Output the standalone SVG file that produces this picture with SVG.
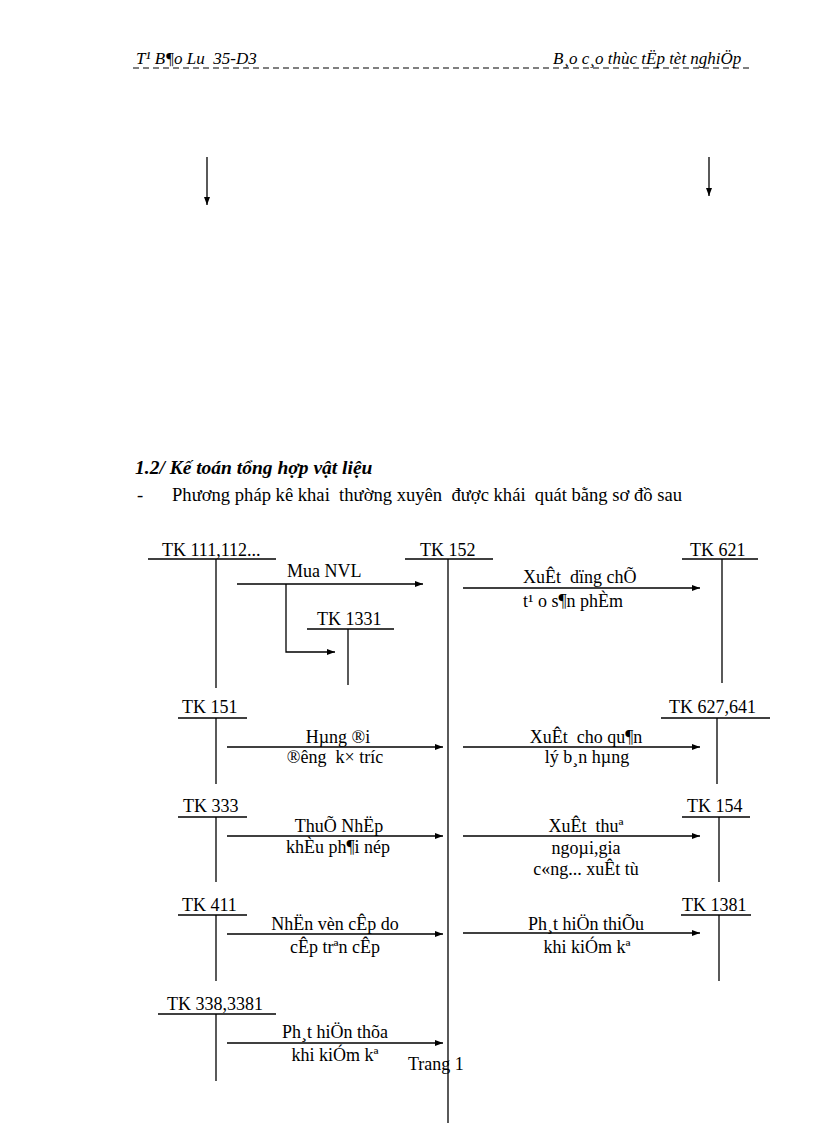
<svg xmlns="http://www.w3.org/2000/svg" width="816" height="1123" viewBox="0 0 816 1123" xml:space="preserve">
<style>
  text { font-family: "Liberation Serif", "Times New Roman", serif; fill: #000; white-space: pre; }
  .hdr { font-size: 17px; font-style: italic; }
  .ttl { font-size: 19.5px; font-weight: bold; font-style: italic; }
  .body { font-size: 18.6px; }
  .tk { font-size: 18px; }
  .lbl { font-size: 18px; }
  .c { text-anchor: middle; }
  .ln { stroke: #000; stroke-width: 1.3; fill: none; }
  .ar { stroke: #000; stroke-width: 1.3; fill: none; marker-end: url(#ah); }
</style>
<defs>
  <marker id="ah" viewBox="0 0 8 6" refX="8" refY="3" markerWidth="8" markerHeight="6" markerUnits="userSpaceOnUse" orient="auto">
    <path d="M0,0 L8,3 L0,6 z" fill="#000"/>
  </marker>
</defs>
<rect width="816" height="1123" fill="#fff"/>

<g id="header">
  <text class="hdr" x="136" y="64">T¹ B¶o Lu  35-D3</text>
  <text class="hdr" x="553" y="64">B¸o c¸o thùc tËp tèt nghiÖp</text>
  <line x1="133" y1="68" x2="750" y2="68" stroke="#000" stroke-width="1" stroke-dasharray="6,4"/>
</g>

<g id="top-arrows">
  <line class="ar" x1="207" y1="157" x2="207" y2="205"/>
  <line class="ar" x1="709" y1="157" x2="709" y2="196"/>
</g>

<g id="heading">
  <text class="ttl" x="135" y="474">1.2/ Kế toán tổng hợp vật liệu</text>
  <text class="body" x="137" y="501">-</text>
  <text class="body" x="172" y="501">Phương pháp kê khai  thường xuyên  được khái  quát bằng sơ đồ sau</text>
</g>

<g id="tk111">
  <text class="tk" x="162" y="556">TK 111,112...</text>
  <line class="ln" x1="148" y1="559" x2="276" y2="559"/>
  <line class="ln" x1="216" y1="559" x2="216" y2="688"/>
</g>
<g id="tk152">
  <text class="tk" x="420" y="556">TK 152</text>
  <line class="ln" x1="405" y1="559" x2="493" y2="559"/>
  <line class="ln" x1="448" y1="559" x2="448" y2="1123"/>
</g>
<g id="tk621">
  <text class="tk" x="690" y="556">TK 621</text>
  <line class="ln" x1="682" y1="559" x2="758" y2="559"/>
  <line class="ln" x1="722" y1="559" x2="722" y2="683"/>
</g>
<g id="tk1331">
  <text class="tk" x="317" y="625">TK 1331</text>
  <line class="ln" x1="307" y1="629" x2="394" y2="629"/>
  <line class="ln" x1="348" y1="629" x2="348" y2="685"/>
</g>
<g id="tk151">
  <text class="tk" x="182" y="713">TK 151</text>
  <line class="ln" x1="178" y1="718" x2="247" y2="718"/>
  <line class="ln" x1="216" y1="718" x2="216" y2="784"/>
</g>
<g id="tk627">
  <text class="tk" x="669" y="713">TK 627,641</text>
  <line class="ln" x1="661" y1="718" x2="770" y2="718"/>
  <line class="ln" x1="717" y1="718" x2="717" y2="784"/>
</g>
<g id="tk333">
  <text class="tk" x="183" y="812">TK 333</text>
  <line class="ln" x1="178" y1="817" x2="247" y2="817"/>
  <line class="ln" x1="216" y1="817" x2="216" y2="882"/>
</g>
<g id="tk154">
  <text class="tk" x="687" y="812">TK 154</text>
  <line class="ln" x1="682" y1="817" x2="750" y2="817"/>
  <line class="ln" x1="719" y1="817" x2="719" y2="882"/>
</g>
<g id="tk411">
  <text class="tk" x="182" y="911">TK 411</text>
  <line class="ln" x1="178" y1="915" x2="247" y2="915"/>
  <line class="ln" x1="216" y1="915" x2="216" y2="981"/>
</g>
<g id="tk1381">
  <text class="tk" x="682" y="911">TK 1381</text>
  <line class="ln" x1="681" y1="915" x2="751" y2="915"/>
  <line class="ln" x1="719" y1="915" x2="719" y2="981"/>
</g>
<g id="tk338">
  <text class="tk" x="167" y="1010">TK 338,3381</text>
  <line class="ln" x1="158" y1="1014" x2="276" y2="1014"/>
  <line class="ln" x1="216" y1="1014" x2="216" y2="1081"/>
</g>

<g id="connectors">
  <line class="ar" x1="237" y1="584" x2="423" y2="584"/>
  <polyline class="ar" points="286,584 286,652 335,652"/>
  <line class="ar" x1="463" y1="588" x2="700" y2="588"/>
  <line class="ar" x1="227" y1="747" x2="443" y2="747"/>
  <line class="ar" x1="463" y1="747" x2="700" y2="747"/>
  <line class="ar" x1="227" y1="836" x2="443" y2="836"/>
  <line class="ar" x1="463" y1="836" x2="700" y2="836"/>
  <line class="ar" x1="227" y1="934" x2="443" y2="934"/>
  <line class="ar" x1="463" y1="933" x2="700" y2="933"/>
  <line class="ar" x1="227" y1="1043" x2="443" y2="1043"/>
</g>

<g id="labels">
  <text class="lbl" x="287" y="577">Mua NVL</text>
  <text class="lbl" x="523" y="583">XuÊt  dïng chÕ</text>
  <text class="lbl" x="523" y="607">t¹ o s¶n phÈm</text>
  <text class="lbl c" x="338" y="743">Hµng ®i</text>
  <text class="lbl c" x="335" y="763">®êng  k× tríc</text>
  <text class="lbl c" x="586" y="743">XuÊt  cho qu¶n</text>
  <text class="lbl c" x="587" y="763">lý b¸n hµng</text>
  <text class="lbl c" x="339" y="832">ThuÕ NhËp</text>
  <text class="lbl c" x="338" y="853">khÈu ph¶i nép</text>
  <text class="lbl c" x="586" y="832">XuÊt  thuª</text>
  <text class="lbl c" x="586" y="854">ngoµi,gia</text>
  <text class="lbl c" x="586" y="875">c«ng... xuÊt tù</text>
  <text class="lbl c" x="335" y="930">NhËn vèn cÊp do</text>
  <text class="lbl c" x="335" y="953">cÊp trªn cÊp</text>
  <text class="lbl c" x="586" y="930">Ph¸t hiÖn thiÕu</text>
  <text class="lbl c" x="587" y="953">khi kiÓm kª</text>
  <text class="lbl c" x="335" y="1038">Ph¸t hiÖn thõa</text>
  <text class="lbl c" x="335" y="1061">khi kiÓm kª</text>
  <text class="lbl" x="408" y="1070">Trang 1</text>
</g>
</svg>
